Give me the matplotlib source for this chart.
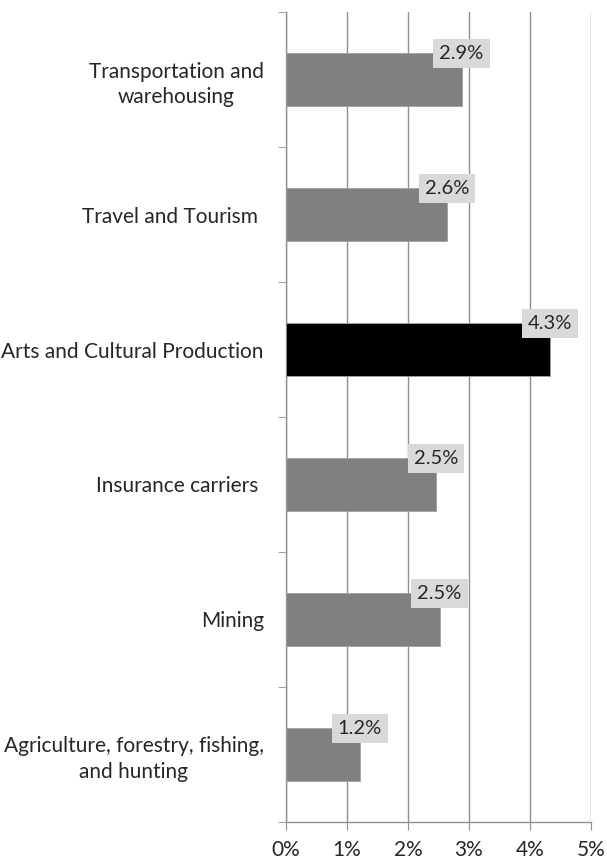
import matplotlib.pyplot as plt
import numpy as np
from matplotlib.ticker import FixedLocator, PercentFormatter

# values (percent), top to bottom
categories = ["Transportation and\nwarehousing", "Travel and Tourism ",
              "Arts and Cultural Production", "Insurance carriers ",
              "Mining", "Agriculture, forestry, fishing,\nand hunting"]
values = [2.88, 2.64, 4.33, 2.46, 2.52, 1.21]
value_labels = ["2.9%", "2.6%", "4.3%", "2.5%", "2.5%", "1.2%"]
highlight = "Arts and Cultural Production"

plt.rcParams['font.family'] = ['Lato', 'DejaVu Sans']

fig = plt.figure(figsize=(6.07, 8.59), dpi=100)
ax = fig.add_axes([0.4712, 0.0431, 0.5020, 0.9429])

n = len(categories)
pos = np.arange(n)[::-1]
colors = ["black" if c == highlight else "#808080" for c in categories]
bar_h = 0.39
ax.barh(pos, values, height=bar_h, color=colors, edgecolor="#a0a0a0", linewidth=0.6, zorder=3)

for p, v, lab in zip(pos, values, value_labels):
    ax.text(v, p + bar_h / 2, lab, ha="center", va="center", fontsize=14.5,
            color="#262626", zorder=4,
            bbox=dict(boxstyle="square,pad=0.3", facecolor="#d9d9d9", edgecolor="none"))

ax.set_xlim(0, 5)
ax.set_ylim(-0.5, n - 0.5)
ax.set_xticks(range(6))
ax.xaxis.set_major_formatter(PercentFormatter(decimals=0))
ax.tick_params(axis="x", labelsize=15, colors="#262626", length=6, color="#909090", direction="out", pad=7)
ax.xaxis.grid(True, color="#909090", linewidth=1.0, zorder=0)

ax.set_yticks(pos)
ax.set_yticklabels(categories, fontsize=15, color="#262626", ha="right",
                   multialignment="center", linespacing=1.35)
ax.tick_params(axis="y", which="major", length=0, pad=16)
ax.yaxis.set_minor_locator(FixedLocator(np.arange(-0.5, n, 1.0)))
ax.tick_params(axis="y", which="minor", length=6, color="#909090", direction="out")

for side in ["top", "right"]:
    ax.spines[side].set_visible(False)
for side in ["left", "bottom"]:
    ax.spines[side].set_color("#909090")
    ax.spines[side].set_linewidth(1.0)

fig.savefig("out.png", dpi=100)
